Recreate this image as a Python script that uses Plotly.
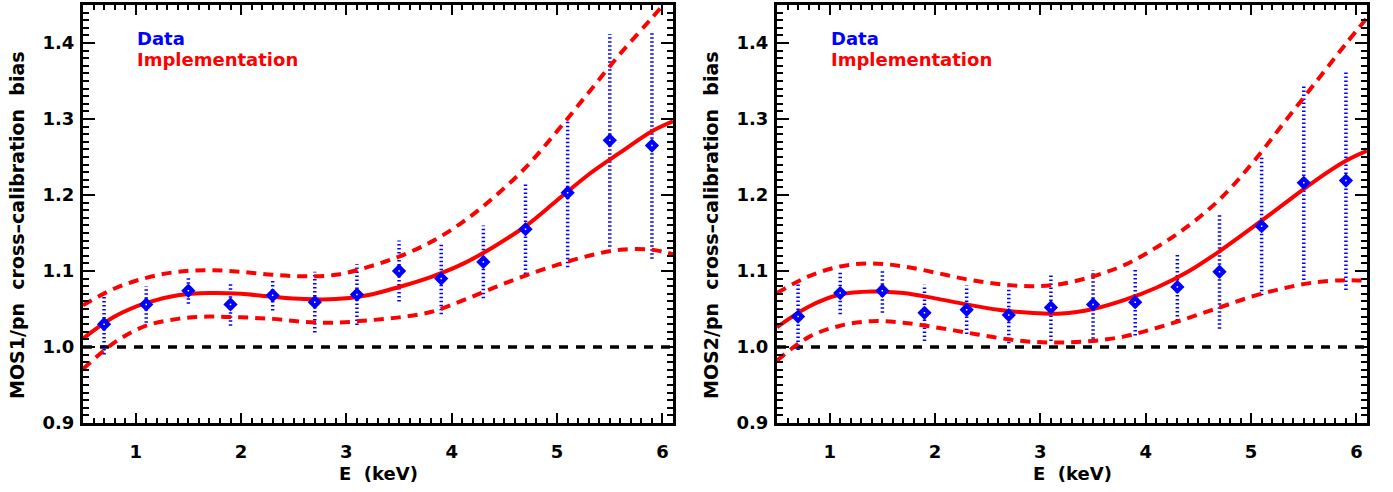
import plotly.graph_objects as go

# Measured MOS/pn ratios in energy bins (keV)
energy = [0.7, 1.1, 1.5, 1.9, 2.3, 2.7, 3.1, 3.5, 3.9, 4.3, 4.7, 5.1, 5.5, 5.9]
mos1_ratio = [1.030, 1.056, 1.074, 1.056, 1.068, 1.059, 1.069, 1.100, 1.090, 1.112, 1.155, 1.203, 1.272, 1.265]
mos1_err = [0.040, 0.024, 0.017, 0.028, 0.020, 0.040, 0.040, 0.040, 0.047, 0.048, 0.059, 0.098, 0.140, 0.149]
mos2_ratio = [1.040, 1.071, 1.074, 1.045, 1.049, 1.042, 1.052, 1.056, 1.059, 1.079, 1.099, 1.159, 1.216, 1.219]
mos2_err = [0.044, 0.028, 0.029, 0.037, 0.032, 0.037, 0.044, 0.045, 0.044, 0.044, 0.075, 0.091, 0.128, 0.144]

# Implemented correction curve and its envelope
model_energy = [0.5, 0.8, 1.1, 1.4, 1.7, 2.0, 2.3, 2.6, 2.9, 3.2, 3.5, 3.8, 4.1, 4.4, 4.7, 5.0, 5.3, 5.6, 5.9, 6.1]
mos1_model = [1.011, 1.040, 1.058, 1.068, 1.071, 1.070, 1.066, 1.063, 1.063, 1.068, 1.079, 1.092, 1.109, 1.132, 1.159, 1.193, 1.227, 1.256, 1.284, 1.297]
mos1_model_hi = [1.055, 1.077, 1.091, 1.099, 1.101, 1.099, 1.095, 1.093, 1.095, 1.105, 1.119, 1.138, 1.164, 1.197, 1.236, 1.284, 1.335, 1.386, 1.433, 1.465]
mos1_model_lo = [0.971, 1.006, 1.028, 1.037, 1.040, 1.039, 1.037, 1.033, 1.032, 1.035, 1.039, 1.046, 1.061, 1.078, 1.094, 1.108, 1.120, 1.128, 1.128, 1.122]
mos2_model = [1.026, 1.053, 1.069, 1.073, 1.071, 1.064, 1.056, 1.049, 1.045, 1.044, 1.050, 1.062, 1.078, 1.099, 1.126, 1.156, 1.187, 1.218, 1.245, 1.258]
mos2_model_hi = [1.071, 1.093, 1.106, 1.110, 1.106, 1.098, 1.089, 1.083, 1.080, 1.083, 1.093, 1.108, 1.131, 1.159, 1.194, 1.240, 1.293, 1.346, 1.399, 1.433]
mos2_model_lo = [0.982, 1.013, 1.028, 1.034, 1.032, 1.026, 1.019, 1.012, 1.007, 1.006, 1.008, 1.014, 1.025, 1.038, 1.052, 1.066, 1.077, 1.085, 1.088, 1.087]

x_ticks = [1, 2, 3, 4, 5, 6]
y_ticks = [0.9, 1.0, 1.1, 1.2, 1.3, 1.4]
x_range = [0.5, 6.1]
y_range = [0.9, 1.45]
unity = 1.0

panel_titles = ["MOS1/pn\u00a0 cross\u2013calibration\u00a0 bias", "MOS2/pn\u00a0 cross\u2013calibration\u00a0 bias"]
x_title = "E\u00a0 (keV)"
legend_labels = ["Data", "Implementation"]

BLUE = "rgb(0,0,255)"
RED = "rgb(255,0,0)"
FONT = "DejaVu Sans"

W, H = 1393, 492
TOP, BOTTOM = 5, 423           # plot area, pixels from the top
PLOT_H = BOTTOM - TOP
domains = [[83 / W, 673 / W], [777 / W, 1367 / W]]


def py(ypx):
    """Pixel row -> paper y (paper spans the plot area only)."""
    return (BOTTOM - ypx) / PLOT_H


panels = [
    (mos1_ratio, mos1_err, mos1_model, mos1_model_hi, mos1_model_lo),
    (mos2_ratio, mos2_err, mos2_model, mos2_model_hi, mos2_model_lo),
]

fig = go.Figure()

for i, (ratio, err, mod, hi, lo) in enumerate(panels):
    xa = "x" if i == 0 else "x2"
    ya = "y" if i == 0 else "y2"

    # unity reference
    fig.add_trace(go.Scatter(
        x=x_range, y=[unity, unity], mode="lines", xaxis=xa, yaxis=ya,
        line=dict(color="black", width=3.5, dash="9px,8px"), hoverinfo="skip"))

    # dotted error bars
    ex, ey = [], []
    for e, r, s in zip(energy, ratio, err):
        ex += [e, e, None]
        ey += [r - s, r + s, None]
    fig.add_trace(go.Scatter(
        x=ex, y=ey, mode="lines", xaxis=xa, yaxis=ya,
        line=dict(color=BLUE, width=3.5, dash="1.5px,2.5px"), hoverinfo="skip"))

    # model curve and envelope
    for curve, dash in ((hi, "10px,7px"), (lo, "10px,7px"), (mod, "solid")):
        fig.add_trace(go.Scatter(
            x=model_energy, y=curve, mode="lines", xaxis=xa, yaxis=ya,
            line=dict(color=RED, width=4, dash=dash, shape="spline", smoothing=1.0),
            hoverinfo="skip"))

    # data points
    fig.add_trace(go.Scatter(
        x=energy, y=ratio, mode="markers", xaxis=xa, yaxis=ya,
        marker=dict(symbol="diamond", size=11, color=BLUE, line=dict(width=0))))
    fig.add_trace(go.Scatter(
        x=energy, y=ratio, mode="markers", xaxis=xa, yaxis=ya,
        marker=dict(symbol="square", size=1.5, color="white", line=dict(width=0))))

axis_common = dict(
    showline=True, linecolor="black", linewidth=3, mirror="allticks",
    ticks="inside", tickcolor="black", tickwidth=2,
    showgrid=False, zeroline=False,
    tickfont=dict(family=FONT, size=18, color="black", weight="bold"),
)

layout = dict(
    width=W, height=H,
    margin=dict(l=0, r=0, t=TOP, b=H - BOTTOM),
    paper_bgcolor="white", plot_bgcolor="white",
    showlegend=False,
)
for i in range(2):
    sx = "" if i == 0 else "2"
    layout["xaxis" + sx] = dict(
        axis_common, domain=domains[i], range=x_range, anchor="y" + sx,
        tickvals=x_ticks, ticklen=10, ticklabelstandoff=10,
        minor=dict(ticks="inside", ticklen=5, dtick=0.1, tick0=0, tickwidth=2, tickcolor="black"),
    )
    layout["yaxis" + sx] = dict(
        axis_common, domain=[0, 1], range=y_range, anchor="x" + sx,
        tickvals=y_ticks, tickformat=".1f", ticklen=12, ticklabelstandoff=2,
        minor=dict(ticks="inside", ticklen=6, dtick=0.01, tick0=0.9, tickwidth=2, tickcolor="black"),
    )
fig.update_layout(**layout)

annotations = []
for i in range(2):
    x0, x1 = domains[i]
    # axis titles
    annotations.append(dict(
        text=x_title, xref="paper", yref="paper", x=(x0 + x1) / 2, y=py(473),
        showarrow=False, xanchor="center", yanchor="middle",
        font=dict(family=FONT, size=18, color="black", weight="bold")))
    annotations.append(dict(
        text=panel_titles[i], xref="paper", yref="paper",
        x=x0 - 66 / W, y=py(225), textangle=-90,
        showarrow=False, xanchor="center", yanchor="middle",
        font=dict(family=FONT, size=19, color="black", weight="bold")))
    # legend text
    for label, color, ypx in ((legend_labels[0], BLUE, 38), (legend_labels[1], RED, 60)):
        annotations.append(dict(
            text=label, xref="paper", yref="paper",
            x=x0 + 52 / W, y=py(ypx),
            showarrow=False, xanchor="left", yanchor="middle",
            font=dict(family=FONT, size=18, color=color, weight="bold")))
fig.update_layout(annotations=annotations)

fig.write_html("out.html")
